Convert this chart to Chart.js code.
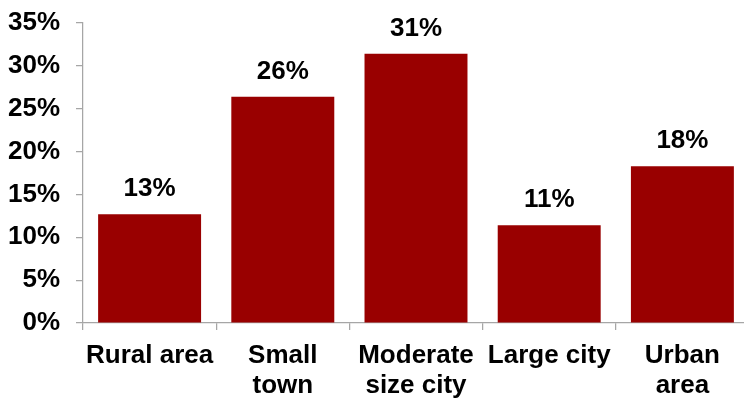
<!DOCTYPE html>
<html>
<head>
<meta charset="utf-8">
<script src="https://cdn.jsdelivr.net/npm/chart.js@4.4.1/dist/chart.umd.min.js"></script>
<style>
  html, body { margin: 0; padding: 0; background: #fff; overflow: hidden; }
  #wrap { width: 750px; height: 398px; }
</style>
</head>
<body>
<div id="wrap"><canvas id="c" width="750" height="398"></canvas></div>
<script>
// Share of respondents by type of community
const categories = [['Rural area'], ['Small', 'town'], ['Moderate', 'size city'], ['Large city'], ['Urban', 'area']];
const shares = [12.7, 26.4, 31.4, 11.4, 18.3];
const yTickStep = 5;
const yMax = 35;

const FONT = '"Liberation Sans", Arial, Helvetica, sans-serif';
const FONT_SIZE = 26;
const AXIS_GRAY = '#a6a6a6';

// Percentage labels above each bar
const valueLabels = {
  id: 'valueLabels',
  afterDatasetsDraw(chart) {
    const ctx = chart.ctx;
    const meta = chart.getDatasetMeta(0);
    ctx.save();
    ctx.font = 'bold ' + FONT_SIZE + 'px ' + FONT;
    ctx.fillStyle = '#000';
    ctx.textAlign = 'center';
    ctx.textBaseline = 'middle';
    meta.data.forEach((bar, i) => {
      ctx.fillText(Math.round(shares[i]) + '%', bar.x, bar.y - 25);
    });
    ctx.restore();
  }
};

new Chart(document.getElementById('c'), {
  type: 'bar',
  data: {
    labels: categories,
    datasets: [{
      data: shares,
      backgroundColor: '#990000',
      borderWidth: 0,
      categoryPercentage: 1.0,
      barPercentage: 0.773
    }]
  },
  options: {
    responsive: false,
    animation: false,
    layout: { padding: { top: 23, right: 1, left: 0, bottom: 0 } },
    plugins: { legend: { display: false }, tooltip: { enabled: false } },
    scales: {
      x: {
        grid: {
          display: true,
          drawOnChartArea: false,
          drawTicks: true,
          tickLength: 7,
          color: AXIS_GRAY,
          lineWidth: 1.25,
          offset: true
        },
        border: { display: true, color: AXIS_GRAY, width: 1.25 },
        ticks: {
          color: '#000',
          font: { family: FONT, size: FONT_SIZE, weight: 'bold', lineHeight: 1.15 },
          padding: 11,
          maxRotation: 0,
          autoSkip: false
        },
        afterFit(scale) { scale.height = 75; scale.paddingLeft = 0; scale.paddingRight = 0; }
      },
      y: {
        min: 0,
        max: yMax,
        grid: {
          display: true,
          drawOnChartArea: false,
          drawTicks: true,
          tickLength: 7,
          color: AXIS_GRAY,
          lineWidth: 1.25
        },
        border: { display: true, color: AXIS_GRAY, width: 1.25 },
        ticks: {
          stepSize: yTickStep,
          color: '#000',
          font: { family: FONT, size: FONT_SIZE, weight: 'bold' },
          padding: 16,
          callback: v => v + '%'
        },
        afterFit(scale) { scale.width = 83; scale.paddingTop = 0; scale.paddingBottom = 0; }
      }
    }
  },
  plugins: [valueLabels]
});
</script>
</body>
</html>
